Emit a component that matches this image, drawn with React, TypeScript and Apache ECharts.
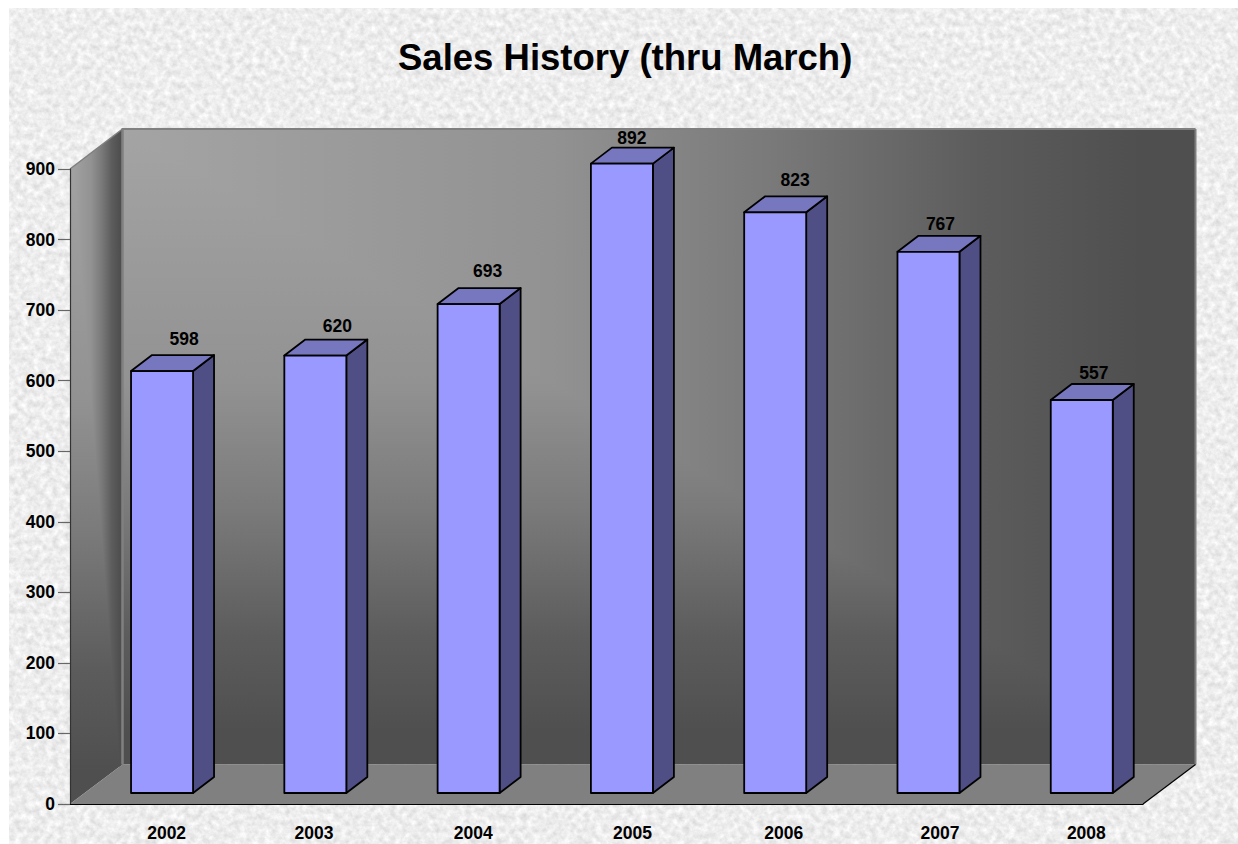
import React, { useEffect, useRef } from "react";
import * as echarts from "echarts";

const titleText = "Sales History (thru March)";
const categories = ["2002", "2003", "2004", "2005", "2006", "2007", "2008"];
const salesValues = [598, 620, 693, 892, 823, 767, 557];
const valueTicks = { min: 0, max: 900, interval: 100 };

// hand-placed label nudges seen in the reference
const categoryLabelShift = [20, 14, 20, 26, 24, 27, 20];
const valueLabelShiftX = [22, 22, 19, 10, 20, 12, 12];
const valueLabelShiftY = [-32, -30, -33, -26, -32, -28, -27];

const FONT = '"Liberation Sans", Arial, sans-serif';
const LEFT = 70, RIGHT = 1143, TOP = 169, BOTTOM = 804;
const DX = 52.5, DY = -39.5;
const BACK_L = LEFT + DX, BACK_R = RIGHT + DX, BACK_T = TOP + DY - 0.5, BACK_B = BOTTOM + DY;

const wallStops = [
  { offset: 0, color: "#a4a4a4" },
  { offset: 0.4, color: "#929292" },
  { offset: 0.6, color: "#7a7a7a" },
  { offset: 0.8, color: "#5c5c5c" },
  { offset: 0.95, color: "#4f4f4f" },
  { offset: 1, color: "#4f4f4f" },
];

const hGrad = (x0: number, x1: number) => new echarts.graphic.LinearGradient(x0, 0, x1, 0, wallStops, true);
const vGrad = (y0: number, y1: number) => new echarts.graphic.LinearGradient(0, y0, 0, y1, wallStops, true);

const noiseSvg = `<svg xmlns="http://www.w3.org/2000/svg" width="1238" height="844"><filter id="n" x="0" y="0" width="100%" height="100%" color-interpolation-filters="sRGB"><feTurbulence type="fractalNoise" baseFrequency="0.16" numOctaves="4" seed="7"/><feColorMatrix type="matrix" values="0.2 0 0 0 0.83 0.2 0 0 0 0.83 0.2 0 0 0 0.83 0 0 0 0 1"/></filter><rect width="1238" height="844" fill="#e6e6e6" filter="url(#n)"/></svg>`;

function polygon(points: number[][], fill: any, z = -10) {
  return { type: "polygon", z, silent: true, shape: { points }, style: { fill } };
}
function line(x1: number, y1: number, x2: number, y2: number, stroke: string, lineWidth: number, z = -5) {
  return { type: "line", z, silent: true, shape: { x1, y1, x2, y2 }, style: { stroke, lineWidth } };
}

// Back wall and side wall use a rectangular gradient spreading from the top-left corner:
// a vertical gradient over the whole face, with the upper-right triangle horizontal on top.
const wallGraphics = [
  polygon([[BACK_L, BACK_T], [BACK_R, BACK_T], [BACK_R, BACK_B], [BACK_L, BACK_B]], vGrad(BACK_T, BACK_B), -12),
  polygon([[BACK_L, BACK_T], [BACK_R, BACK_T], [BACK_R, BACK_B]], hGrad(BACK_L, BACK_R), -11),
  polygon([[LEFT, TOP], [BACK_L, BACK_T], [BACK_L, BACK_B], [LEFT, BOTTOM]], vGrad(BACK_T, BOTTOM), -12),
  polygon([[72.9, 166.7], [BACK_L, BACK_T], [BACK_L, BACK_B], [119.2, 767]], hGrad(LEFT, BACK_L), -11),
  polygon([[LEFT, BOTTOM], [BACK_L, BACK_B], [BACK_R, BACK_B], [RIGHT, BOTTOM]], "#808080"),
  line(BACK_L, BACK_T, BACK_L, BACK_B, "#808080", 2.5),
  line(BACK_L - 1, BACK_T, BACK_R, BACK_T, "#808080", 2),
  line(BACK_R, BACK_T, BACK_R, BACK_B, "#808080", 2),
  line(LEFT, TOP, BACK_L, BACK_T, "#808080", 1.5),
  line(RIGHT, BOTTOM, BACK_R, BACK_B, "#000000", 1.2),
];

const BAR_W = 62, BAR_DX = 21, BAR_DY = -16, OFF_X = 15.4, OFF_Y = -11;

function renderBar(params: any, api: any) {
  const i = api.value(0);
  const v = api.value(1);
  const top = api.coord([i, v]);
  const base = api.coord([i, 0]);
  const cx = top[0] + OFF_X;
  const x0 = cx - BAR_W / 2;
  const x1 = cx + BAR_W / 2;
  const y0 = top[1] + OFF_Y;
  const y1 = base[1] + OFF_Y;
  const edge = { stroke: "#000000", lineWidth: 1.8, lineJoin: "round" };
  return {
    type: "group",
    children: [
      { type: "polygon", shape: { points: [[x1, y0], [x1 + BAR_DX, y0 + BAR_DY], [x1 + BAR_DX, y1 + BAR_DY], [x1, y1]] }, style: { fill: "#4f4f86", ...edge } },
      { type: "polygon", shape: { points: [[x0, y0], [x0 + BAR_DX, y0 + BAR_DY], [x1 + BAR_DX, y0 + BAR_DY], [x1, y0]] }, style: { fill: "#7777c0", ...edge } },
      { type: "rect", shape: { x: x0, y: y0, width: BAR_W, height: y1 - y0 }, style: { fill: "#9999ff", ...edge } },
      {
        type: "text",
        x: cx + valueLabelShiftX[i],
        y: y0 + valueLabelShiftY[i],
        style: { text: String(v), fill: "#000000", fontFamily: FONT, fontWeight: "bold", fontSize: 17.5, align: "center", verticalAlign: "middle" },
      },
    ],
  };
}

export default function App() {
  const ref = useRef<HTMLDivElement>(null);
  useEffect(() => {
    const chart = echarts.init(ref.current!, undefined, { renderer: "svg" });
    chart.setOption({
      animation: false,
      backgroundColor: "transparent",
      title: {
        text: titleText,
        left: 393,
        top: 34,
        textStyle: { fontFamily: FONT, fontWeight: "bold", fontSize: 36.5, color: "#000000" },
      },
      grid: { left: LEFT, right: 1238 - RIGHT, top: TOP, bottom: 844 - BOTTOM, containLabel: false },
      xAxis: {
        type: "category",
        data: categories.map((c, i) => ({
          value: c,
          textStyle: { padding: [0, 0, 0, categoryLabelShift[i] * 2] },
        })),
        axisLine: { lineStyle: { color: "#000000", width: 1.2 } },
        axisTick: { show: false },
        axisLabel: { color: "#000000", fontFamily: FONT, fontWeight: "bold", fontSize: 17.5, margin: 20, interval: 0 },
        splitLine: { show: false },
      },
      yAxis: {
        type: "value",
        ...valueTicks,
        axisLine: { show: true, lineStyle: { color: "#333333", width: 1.2 } },
        axisTick: { show: true, length: 12, lineStyle: { color: "#666666", width: 1.2 } },
        axisLabel: { color: "#000000", fontFamily: FONT, fontWeight: "bold", fontSize: 17.5, margin: 15 },
        splitLine: { show: false },
      },
      graphic: { elements: wallGraphics },
      series: [
        {
          type: "custom",
          coordinateSystem: "cartesian2d",
          renderItem: renderBar,
          clip: false,
          data: salesValues.map((v, i) => [i, v]),
          encode: { x: 0, y: 1 },
          z: 5,
        },
      ],
    });
    return () => chart.dispose();
  }, []);
  return (
    <div style={{ position: "absolute", left: 0, top: 0, width: 1238, height: 844, overflow: "hidden", background: "#ffffff" }}>
      <div
        style={{
          position: "absolute",
          left: 9,
          top: 8,
          right: 0,
          bottom: 0,
          backgroundImage: `url("data:image/svg+xml,${encodeURIComponent(noiseSvg)}")`,
        }}
      />
      <div ref={ref} style={{ position: "absolute", left: 0, top: 0, width: 1238, height: 844 }} />
    </div>
  );
}
